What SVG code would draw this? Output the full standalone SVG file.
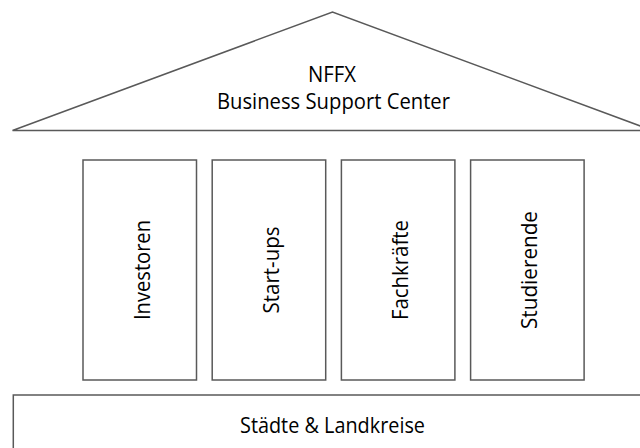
<svg xmlns="http://www.w3.org/2000/svg" width="640" height="448" viewBox="0 0 640 448">
<style>
.shape{fill:#ffffff;stroke:#595959;stroke-width:1.5}
.lbl{font-family:"Open Sans","Noto Sans","Liberation Sans",sans-serif;font-size:21px;fill:#000000;text-anchor:middle}
</style>
<rect width="640" height="448" fill="#ffffff"/>
<g id="roof">
<polygon class="shape" points="12.5,130.5 332.5,12 652.5,130.5"/>
<text class="lbl" x="332" y="81.5" textLength="48" lengthAdjust="spacingAndGlyphs">NFFX</text>
<text class="lbl" x="333.5" y="109" textLength="233" lengthAdjust="spacingAndGlyphs">Business Support Center</text>
</g>
<g id="pillar-investoren">
<rect class="shape" x="83" y="160" width="113.5" height="220"/>
<text class="lbl" transform="translate(149.5,270) rotate(-90)" x="0" y="0" textLength="100" lengthAdjust="spacingAndGlyphs">Investoren</text>
</g>
<g id="pillar-startups">
<rect class="shape" x="212.2" y="160" width="113.5" height="220"/>
<text class="lbl" transform="translate(278.7,270) rotate(-90)" x="0" y="0" textLength="87" lengthAdjust="spacingAndGlyphs">Start-ups</text>
</g>
<g id="pillar-fachkraefte">
<rect class="shape" x="341.4" y="160" width="113.5" height="220"/>
<text class="lbl" transform="translate(408,270) rotate(-90)" x="0" y="0" textLength="100" lengthAdjust="spacingAndGlyphs">Fachkräfte</text>
</g>
<g id="pillar-studierende">
<rect class="shape" x="470.6" y="160" width="113.5" height="220"/>
<text class="lbl" transform="translate(537.3,270) rotate(-90)" x="0" y="0" textLength="118" lengthAdjust="spacingAndGlyphs">Studierende</text>
</g>
<g id="base">
<rect class="shape" x="13.3" y="395" width="640" height="100"/>
<text class="lbl" x="332.5" y="433.3" textLength="185" lengthAdjust="spacingAndGlyphs">Städte &amp; Landkreise</text>
</g>
<g id="connectors"/>
</svg>
